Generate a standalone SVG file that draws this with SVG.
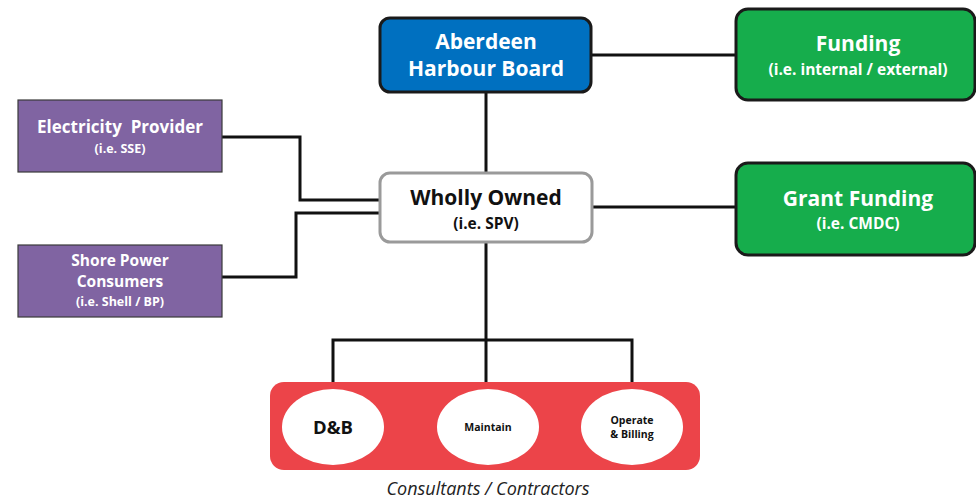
<svg xmlns="http://www.w3.org/2000/svg" width="976" height="501" viewBox="0 0 976 501">
<style>
text{font-family:"Open Sans","Noto Sans","Liberation Sans",sans-serif;font-weight:bold;text-anchor:middle}
.w{fill:#fff}
.k{fill:#111}
.line{fill:none;stroke:#111;stroke-width:3}
.purple{fill:#8064A2;stroke:#3a3a3a;stroke-width:1.2}
.green{fill:#16AD4C;stroke:#1a1a1a;stroke-width:3}
.oval{fill:#fff}
.cap{font-weight:normal;font-style:italic;fill:#222}
</style>
<rect width="976" height="501" fill="#fff"/>
<g id="connectors">
<path class="line" d="M590 55H736"/>
<path class="line" d="M486 92V173"/>
<path class="line" d="M592 207H736"/>
<path class="line" d="M222 137H300V200H380"/>
<path class="line" d="M222 277H296V213H380"/>
<path class="line" d="M486 242V382"/>
<path class="line" d="M333 382V340H632V382"/>
</g>
<g id="aberdeen">
<rect x="380" y="18" width="211" height="74" rx="10" fill="#0070C0" stroke="#1a1a1a" stroke-width="3"/>
<text class="w" x="486" y="49" font-size="21">Aberdeen</text>
<text class="w" x="486" y="76" font-size="21">Harbour Board</text>
</g>
<g id="funding">
<rect class="green" x="736" y="9" width="239" height="91" rx="12"/>
<text class="w" x="858" y="51" font-size="21">Funding</text>
<text class="w" x="858" y="75" font-size="15.5">(i.e. internal / external)</text>
</g>
<g id="electricity">
<rect class="purple" x="18" y="100" width="204" height="72"/>
<text class="w" x="120" y="133" font-size="17" xml:space="preserve">Electricity  Provider</text>
<text class="w" x="120" y="153" font-size="12.5">(i.e. SSE)</text>
</g>
<g id="shore">
<rect class="purple" x="18" y="245" width="204" height="72"/>
<text class="w" x="120" y="266" font-size="15.5">Shore Power</text>
<text class="w" x="120" y="287" font-size="15.5">Consumers</text>
<text class="w" x="120" y="306" font-size="12.5">(i.e. Shell / BP)</text>
</g>
<g id="wholly">
<rect x="380" y="173" width="212" height="69" rx="10" fill="#fff" stroke="#9a9a9a" stroke-width="3"/>
<text class="k" x="486" y="205" font-size="21">Wholly Owned</text>
<text class="k" x="486" y="229" font-size="15.5">(i.e. SPV)</text>
</g>
<g id="grant">
<rect class="green" x="736" y="163" width="239" height="92" rx="12"/>
<text class="w" x="858" y="206" font-size="21">Grant Funding</text>
<text class="w" x="858" y="229" font-size="15.5">(i.e. CMDC)</text>
</g>
<g id="contractors">
<rect x="270" y="382" width="430" height="88" rx="14" fill="#EC4449"/>
<ellipse class="oval" cx="333" cy="427" rx="51" ry="38"/>
<ellipse class="oval" cx="488" cy="427" rx="51" ry="38"/>
<ellipse class="oval" cx="632" cy="427" rx="51" ry="38"/>
<text class="k" x="333" y="434" font-size="18.5">D&amp;B</text>
<text class="k" x="488" y="431" font-size="10.5">Maintain</text>
<text class="k" x="632" y="424" font-size="10.5">Operate</text>
<text class="k" x="632" y="438" font-size="10.5">&amp; Billing</text>
<text class="cap" x="488" y="495" font-size="18">Consultants / Contractors</text>
</g>
</svg>
